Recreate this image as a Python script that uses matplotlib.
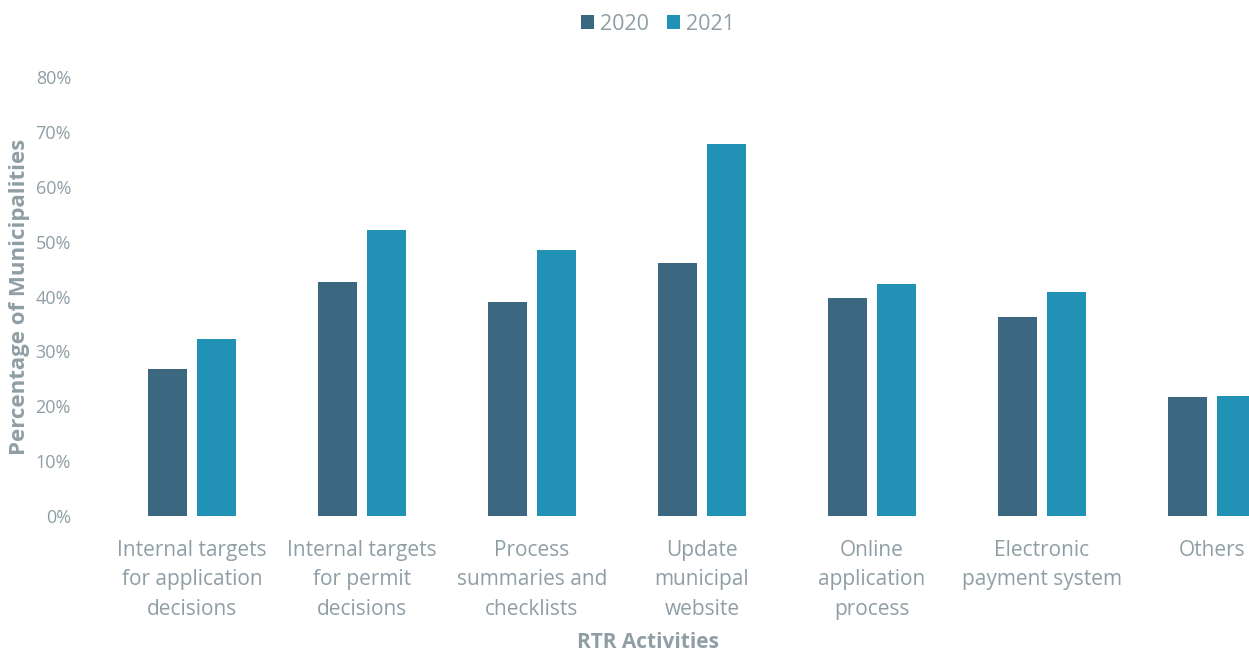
"""Bar chart: RTR activities by municipalities, 2020 vs 2021."""

import matplotlib

matplotlib.use("Agg")

import matplotlib.pyplot as plt
import numpy as np
from matplotlib.ticker import PercentFormatter

categories = [
    "Internal targets\nfor application\ndecisions",
    "Internal targets\nfor permit\ndecisions",
    "Process\nsummaries and\nchecklists",
    "Update\nmunicipal\nwebsite",
    "Online\napplication\nprocess",
    "Electronic\npayment system",
    "Others",
]
share_2020 = [0.268, 0.426, 0.390, 0.461, 0.397, 0.362, 0.217]
share_2021 = [0.322, 0.521, 0.485, 0.678, 0.423, 0.408, 0.219]
y_ticks = [0.0, 0.1, 0.2, 0.3, 0.4, 0.5, 0.6, 0.7, 0.8]

plt.rcParams["font.family"] = ["Open Sans", "DejaVu Sans"]
text_grey = "#8f9ea5"
c2020 = "#3b6880"
c2021 = "#2191b6"

fig = plt.figure(figsize=(12.49, 6.52), dpi=100)
# axes run past the right edge, like the cropped source
ax = fig.add_axes([107 / 1249, (652 - 516) / 652, 1190 / 1249, 439 / 652])

x = np.arange(len(categories))
w = 0.227
ax.bar(x - 0.144, share_2020, w, color=c2020, label="2020")
ax.bar(x + 0.144, share_2021, w, color=c2021, label="2021")

ax.set_xlim(-0.5, len(categories) - 0.5)
ax.set_ylim(0, 0.8)
ax.set_yticks(y_ticks)
ax.yaxis.set_major_formatter(PercentFormatter(1.0, decimals=0))
ax.set_xticks(x)
ax.set_xticklabels(categories, linespacing=1.55)
ax.tick_params(axis="both", length=0, colors=text_grey)
ax.tick_params(axis="y", pad=26, labelsize=13)
ax.tick_params(axis="x", pad=17, labelsize=15)
for s in ax.spines.values():
    s.set_visible(False)

fig.text(20 / 1249, 1 - 297 / 652, "Percentage of Municipalities", rotation=90,
         ha="center", va="center", color=text_grey, fontsize=16, fontweight="bold")
fig.text(648 / 1249, 1 - 642 / 652, "RTR Activities", ha="center", va="center",
         color=text_grey, fontsize=15, fontweight="bold")

fig.legend(loc="center", bbox_to_anchor=(658 / 1249, 1 - 24 / 652), ncol=2, frameon=False,
           fontsize=15.5, labelcolor=text_grey, handlelength=0.6, handleheight=0.6,
           handletextpad=0.3, columnspacing=0.8)

fig.savefig("out.png", dpi=100)
plt.close(fig)
